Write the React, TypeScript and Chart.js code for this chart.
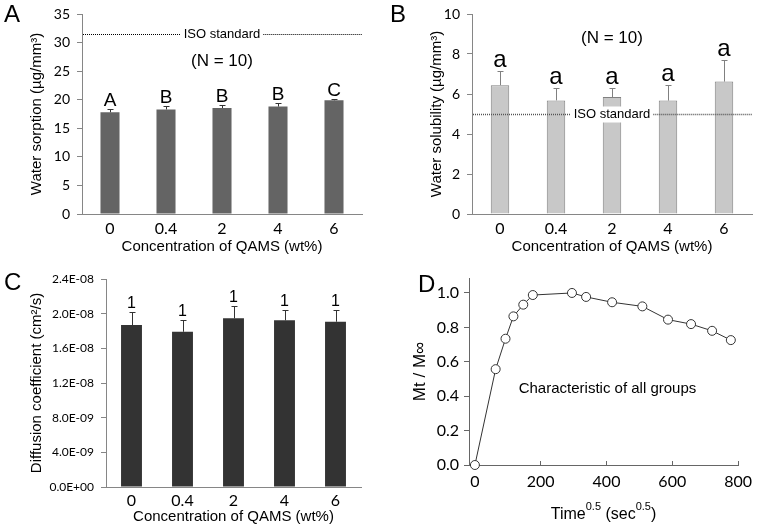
import React, { useEffect, useRef } from "react";
import { Chart, registerables } from "chart.js";
Chart.register(...registerables);

// ---------- data ----------
const categories = ["0", "0.4", "2", "4", "6"];

const sorptionMeans = [17.8, 18.3, 18.55, 18.8, 19.9];
const sorptionErrors = [0.5, 0.6, 0.5, 0.6, 0.3];
const sorptionLetters = ["A", "B", "B", "B", "C"];
const sorptionTicks = [0, 5, 10, 15, 20, 25, 30, 35];
const sorptionIso = 31.5;

const solubilityMeans = [6.44, 5.68, 5.85, 5.67, 6.62];
const solubilityErrors = [0.69, 0.6, 0.43, 0.77, 1.08];
const solubilityLetters = ["a", "a", "a", "a", "a"];
const solubilityTicks = [0, 2, 4, 6, 8, 10];
const solubilityIso = 5;

const diffusionMeans = [1.868e-8, 1.791e-8, 1.946e-8, 1.923e-8, 1.907e-8];
const diffusionErrors = [0.154e-8, 0.135e-8, 0.142e-8, 0.119e-8, 0.135e-8];
const diffusionLetters = ["1", "1", "1", "1", "1"];
const diffusionTicks = [0, 4e-9, 8e-9, 1.2e-8, 1.6e-8, 2.0e-8, 2.4e-8];

const timeRoot = [0, 63, 93, 117, 147, 176, 295, 338, 417, 509, 587, 657, 721, 778];
const massRatio = [0, 0.557, 0.734, 0.864, 0.932, 0.988, 1.0, 0.977, 0.946, 0.922, 0.845, 0.819, 0.78, 0.726];
const timeTicks = [0, 200, 400, 600, 800];
const ratioTicks = [0, 0.2, 0.4, 0.6, 0.8, 1.0];

// ---------- helpers ----------
const W = 765;
const H = 527;
const TICK_FONT = "Lato";
const TEXT_FONT = "Liberation Sans";

function sciLabel(v: number): string {
  if (v === 0) return "0.0E+00";
  let e = Math.floor(Math.log10(Math.abs(v)));
  let m = v / Math.pow(10, e);
  if (Math.round(m * 10) / 10 >= 10) {
    m /= 10;
    e += 1;
  }
  const ae = Math.abs(e);
  return m.toFixed(1) + "E" + (e < 0 ? "-" : "+") + (ae < 10 ? "0" : "") + ae;
}

type Area = { left: number; right: number; top: number; bottom: number };

interface BarPanel {
  means: number[];
  errors: number[];
  letters: string[];
  ticks: number[];
  max: number;
  fmt: (v: number) => string;
  fill: string;
  border: string;
  borderWidth: number;
  errColor: string;
  barPct: number;
  yTitle: string;
  area: Area;
  yTitleX: number;
  yTitleSize: number;
  xTickY: number;
  xTitleY: number;
  yTickSize: number;
  yTickPad: number;
  xTickSize: number;
  letterSize: number;
  letterGap: number;
  iso?: { value: number; color: string; width: number };
  nValue?: number;
  panel: { text: string; x: number; y: number };
}

function barExtras(p: BarPanel) {
  return {
    id: "barExtras",
    afterDatasetsDraw(chart: any) {
      const ctx = chart.ctx;
      const ys = chart.scales.y;
      const ca = chart.chartArea;
      const meta = chart.getDatasetMeta(0);
      ctx.save();
      meta.data.forEach((el: any, i: number) => {
        const x = Math.round(el.x) + 0.5;
        const y0 = ys.getPixelForValue(p.means[i]);
        const y1 = Math.round(ys.getPixelForValue(p.means[i] + p.errors[i])) + 0.5;
        ctx.strokeStyle = p.errColor;
        ctx.lineWidth = 1;
        ctx.setLineDash([]);
        ctx.beginPath();
        ctx.moveTo(x, y0);
        ctx.lineTo(x, y1);
        ctx.moveTo(x - 3, y1);
        ctx.lineTo(x + 3, y1);
        ctx.stroke();
        ctx.fillStyle = "#000";
        ctx.font = `${p.letterSize}px "${TEXT_FONT}"`;
        ctx.textAlign = "center";
        ctx.textBaseline = "alphabetic";
        ctx.fillText(p.letters[i], el.x, y1 - p.letterGap);
      });
      if (p.iso) {
        const y = Math.round(ys.getPixelForValue(p.iso.value)) + 0.5;
        const cx = (ca.left + ca.right) / 2;
        ctx.font = `13px "${TEXT_FONT}"`;
        const label = "ISO standard";
        const tw = ctx.measureText(label).width;
        ctx.fillStyle = "#fff";
        ctx.fillRect(cx - tw / 2 - 3, y - 8, tw + 6, 16);
        ctx.strokeStyle = p.iso.color;
        ctx.lineWidth = p.iso.width;
        ctx.setLineDash([1, 1]);
        ctx.beginPath();
        ctx.moveTo(ca.left + 1, y);
        ctx.lineTo(cx - tw / 2 - 3, y);
        ctx.moveTo(cx + tw / 2 + 3, y);
        ctx.lineTo(ca.right, y);
        ctx.stroke();
        ctx.setLineDash([]);
        ctx.fillStyle = "#000";
        ctx.textAlign = "center";
        ctx.textBaseline = "middle";
        ctx.fillText(label, cx, y);
      }
      if (p.nValue !== undefined) {
        ctx.fillStyle = "#000";
        ctx.font = `17px "${TEXT_FONT}"`;
        ctx.textAlign = "center";
        ctx.textBaseline = "middle";
        ctx.fillText("(N = 10)", (ca.left + ca.right) / 2, ys.getPixelForValue(p.nValue));
      }
      ctx.fillStyle = "#000";
      ctx.font = `24px "${TEXT_FONT}"`;
      ctx.textAlign = "left";
      ctx.textBaseline = "alphabetic";
      ctx.fillText(p.panel.text, p.panel.x, p.panel.y);
      ctx.restore();
    },
  };
}

function barConfig(p: BarPanel): any {
  const titleLH = Math.round(p.yTitleSize * 1.2);
  const padLeft = p.yTitleX - titleLH / 2;
  const xBottom = p.xTitleY + 9;
  return {
    type: "bar",
    data: {
      labels: categories,
      datasets: [
        {
          data: p.means,
          backgroundColor: p.fill,
          borderColor: p.border,
          borderWidth: p.borderWidth,
          categoryPercentage: 1,
          barPercentage: p.barPct,
        },
      ],
    },
    options: {
      responsive: false,
      animation: false,
      devicePixelRatio: 1,
      events: [],
      layout: {
        padding: { left: padLeft, right: W - p.area.right, top: p.area.top, bottom: H - xBottom },
      },
      plugins: { legend: { display: false }, tooltip: { enabled: false } },
      scales: {
        x: {
          type: "category",
          offset: true,
          grid: { display: false, drawTicks: false },
          border: { display: true, color: "#868686", width: 1 },
          ticks: {
            color: "#000",
            padding: p.xTickY - p.area.bottom - p.xTickSize / 2,
            font: { family: TICK_FONT, size: p.xTickSize, lineHeight: 1 },
            maxRotation: 0,
          },
          title: {
            display: true,
            text: "Concentration of QAMS (wt%)",
            color: "#000",
            padding: 0,
            font: { family: TEXT_FONT, size: 15, lineHeight: 18 / 15 },
          },
          afterFit: (s: any) => {
            s.height = xBottom - p.area.bottom;
          },
        },
        y: {
          type: "linear",
          min: 0,
          max: p.max,
          grid: { drawOnChartArea: false, tickLength: 5, color: "#868686" },
          border: { display: true, color: "#868686", width: 1 },
          ticks: {
            color: "#000",
            padding: p.yTickPad,
            font: { family: TICK_FONT, size: p.yTickSize, lineHeight: 1 },
            callback: (v: number) => p.fmt(v),
          },
          afterBuildTicks: (s: any) => {
            s.ticks = p.ticks.map((v) => ({ value: v }));
          },
          title: {
            display: true,
            text: p.yTitle,
            color: "#000",
            padding: 0,
            font: { family: TEXT_FONT, size: p.yTitleSize, lineHeight: titleLH / p.yTitleSize },
          },
          afterFit: (s: any) => {
            s.width = p.area.left - padLeft;
          },
        },
      },
    },
    plugins: [barExtras(p)],
  };
}

const panelA: BarPanel = {
  means: sorptionMeans,
  errors: sorptionErrors,
  letters: sorptionLetters,
  ticks: sorptionTicks,
  max: 35,
  fmt: (v) => String(v),
  fill: "#646464",
  border: "#646464",
  borderWidth: 0,
  errColor: "#333",
  barPct: 0.34,
  yTitle: "Water sorption (µg/mm³)",
  area: { left: 82, right: 362, top: 7, bottom: 214 },
  yTitleX: 37,
  yTitleSize: 15,
  xTickY: 229,
  xTitleY: 247,
  yTickSize: 14,
  yTickPad: 7,
  xTickSize: 16,
  letterSize: 19,
  letterGap: 4,
  iso: { value: sorptionIso, color: "#000", width: 1 },
  nValue: 26.8,
  panel: { text: "A", x: 4, y: 22 },
};

const panelB: BarPanel = {
  means: solubilityMeans,
  errors: solubilityErrors,
  letters: solubilityLetters,
  ticks: solubilityTicks,
  max: 10,
  fmt: (v) => String(v),
  fill: "#c8c8c8",
  border: "#808080",
  borderWidth: 1,
  errColor: "#808080",
  barPct: 0.33,
  yTitle: "Water solubility (µg/mm³)",
  area: { left: 472, right: 752, top: 7, bottom: 214 },
  yTitleX: 437,
  yTitleSize: 15,
  xTickY: 229,
  xTitleY: 247,
  yTickSize: 14,
  yTickPad: 7,
  xTickSize: 16,
  letterSize: 24,
  letterGap: 5,
  iso: { value: solubilityIso, color: "#555", width: 1.4 },
  nValue: 8.8,
  panel: { text: "B", x: 390, y: 22 },
};

const panelC: BarPanel = {
  means: diffusionMeans,
  errors: diffusionErrors,
  letters: diffusionLetters,
  ticks: diffusionTicks,
  max: 2.4e-8,
  fmt: sciLabel,
  fill: "#333333",
  border: "#333333",
  borderWidth: 0,
  errColor: "#333",
  barPct: 0.41,
  yTitle: "Diffusion coefficient (cm²/s)",
  area: { left: 106, right: 361, top: 279, bottom: 487 },
  yTitleX: 37,
  yTitleSize: 15,
  xTickY: 501,
  xTitleY: 517,
  yTickSize: 12,
  yTickPad: 7,
  xTickSize: 16,
  letterSize: 16,
  letterGap: 5,
  panel: { text: "C", x: 4, y: 290 },
};

// ---------- panel D ----------
const dArea: Area = { left: 469, right: 748, top: 278, bottom: 465 };
const dXMin = -18;
const dYMax = 1.087;
const dYTitleX = 420;
const noteX = 403;
const noteY = 0.44;

const dExtras = {
  id: "dExtras",
  afterDraw(chart: any) {
    const ctx = chart.ctx;
    const xs = chart.scales.x;
    const ys = chart.scales.y;
    const ca = chart.chartArea;
    ctx.save();
    ctx.fillStyle = "#000";
    ctx.font = `15px "${TEXT_FONT}"`;
    ctx.textAlign = "center";
    ctx.textBaseline = "middle";
    ctx.fillText("Characteristic of all groups", xs.getPixelForValue(noteX), ys.getPixelForValue(noteY));
    const parts: [string, boolean][] = [
      ["Time", false],
      ["0.5", true],
      [" (sec", false],
      ["0.5", true],
      [")", false],
    ];
    const big = `16px "${TEXT_FONT}"`;
    const small = `11px "${TEXT_FONT}"`;
    let total = 0;
    parts.forEach(([t, sup]) => {
      ctx.font = sup ? small : big;
      total += ctx.measureText(t).width;
    });
    let x = (ca.left + ca.right) / 2 - total / 2;
    const base = 519;
    ctx.textAlign = "left";
    ctx.textBaseline = "alphabetic";
    parts.forEach(([t, sup]) => {
      ctx.font = sup ? small : big;
      ctx.fillText(t, x, sup ? base - 9 : base);
      x += ctx.measureText(t).width;
    });
    ctx.font = `24px "${TEXT_FONT}"`;
    ctx.fillText("D", 418, 292);
    ctx.restore();
  },
};

function dConfig(): any {
  const titleLH = 20;
  const padLeft = dYTitleX - titleLH / 2;
  return {
    type: "scatter",
    data: {
      datasets: [
        {
          data: timeRoot.map((t, i) => ({ x: t, y: massRatio[i] })),
          showLine: true,
          borderColor: "#333",
          borderWidth: 1,
          pointRadius: 4.5,
          pointBackgroundColor: "#fff",
          pointBorderColor: "#333",
          pointBorderWidth: 1,
          tension: 0,
          clip: false,
        },
      ],
    },
    options: {
      responsive: false,
      animation: false,
      devicePixelRatio: 1,
      events: [],
      layout: { padding: { left: padLeft, right: W - dArea.right, top: dArea.top, bottom: 0 } },
      plugins: { legend: { display: false }, tooltip: { enabled: false } },
      scales: {
        x: {
          type: "linear",
          min: dXMin,
          max: 800,
          grid: { drawOnChartArea: false, tickLength: -4, color: "#666" },
          border: { display: true, color: "#666", width: 1 },
          ticks: {
            color: "#000",
            padding: 482 - dArea.bottom - 8 + 4,
            font: { family: TICK_FONT, size: 16, lineHeight: 1 },
            maxRotation: 0,
            callback: (v: number) => String(v),
          },
          afterBuildTicks: (s: any) => {
            s.ticks = timeTicks.map((v) => ({ value: v }));
          },
          afterFit: (s: any) => {
            s.height = H - dArea.bottom;
          },
        },
        y: {
          type: "linear",
          min: 0,
          max: dYMax,
          grid: { drawOnChartArea: false, tickLength: 5, color: "#666" },
          border: { display: true, color: "#666", width: 1 },
          ticks: {
            color: "#000",
            padding: 5,
            font: { family: TICK_FONT, size: 16, lineHeight: 1 },
            callback: (v: number) => v.toFixed(1),
          },
          afterBuildTicks: (s: any) => {
            s.ticks = ratioTicks.map((v) => ({ value: v }));
          },
          title: {
            display: true,
            text: "Mt / M∞",
            color: "#000",
            padding: 0,
            font: { family: TEXT_FONT, size: 17, lineHeight: titleLH / 17 },
          },
          afterFit: (s: any) => {
            s.width = dArea.left - padLeft;
          },
        },
      },
    },
    plugins: [dExtras],
  };
}

function ChartCanvas({ make }: { make: () => any }) {
  const ref = useRef<HTMLCanvasElement>(null);
  useEffect(() => {
    const chart = new Chart(ref.current as HTMLCanvasElement, make());
    return () => chart.destroy();
  }, []);
  return (
    <canvas
      ref={ref}
      width={W}
      height={H}
      style={{ position: "absolute", left: 0, top: 0, width: W, height: H }}
    />
  );
}

export default function App() {
  return (
    <div style={{ position: "absolute", left: 0, top: 0, width: W, height: H, background: "#fff" }}>
      <ChartCanvas make={() => barConfig(panelA)} />
      <ChartCanvas make={() => barConfig(panelB)} />
      <ChartCanvas make={() => barConfig(panelC)} />
      <ChartCanvas make={dConfig} />
    </div>
  );
}
